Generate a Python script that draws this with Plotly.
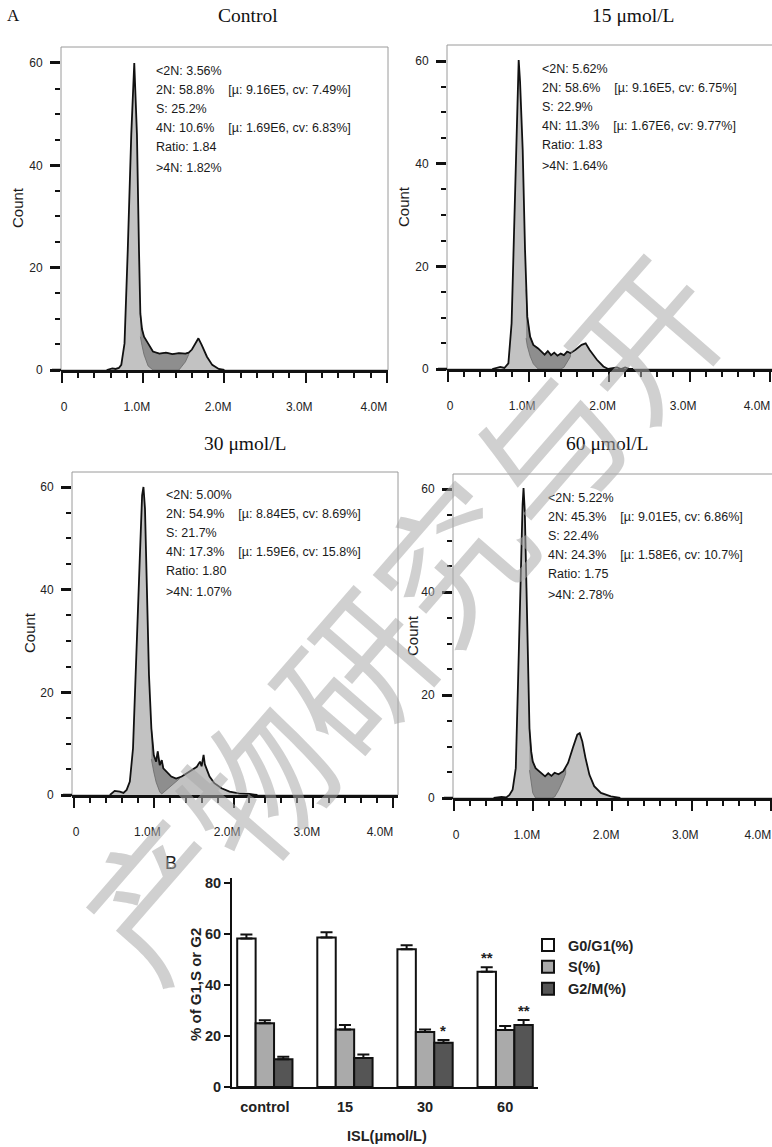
import plotly.graph_objects as go

W, H = 772, 1147

# ------------------------------------------------------------------ data
panel_titles = ["Control", "15 μmol/L", "30 μmol/L", "60 μmol/L"]
stats = [
    ["<2N: 3.56%", "2N: 58.8%   [µ: 9.16E5, cv: 7.49%]", "S: 25.2%",
     "4N: 10.6%   [µ: 1.69E6, cv: 6.83%]", "Ratio: 1.84", ">4N: 1.82%"],
    ["<2N: 5.62%", "2N: 58.6%   [µ: 9.16E5, cv: 6.75%]", "S: 22.9%",
     "4N: 11.3%   [µ: 1.67E6, cv: 9.77%]", "Ratio: 1.83", ">4N: 1.64%"],
    ["<2N: 5.00%", "2N: 54.9%   [µ: 8.84E5, cv: 8.69%]", "S: 21.7%",
     "4N: 17.3%   [µ: 1.59E6, cv: 15.8%]", "Ratio: 1.80", ">4N: 1.07%"],
    ["<2N: 5.22%", "2N: 45.3%   [µ: 9.01E5, cv: 6.86%]", "S: 22.4%",
     "4N: 24.3%   [µ: 1.58E6, cv: 10.7%]", "Ratio: 1.75", ">4N: 2.78%"],
]
x_tickvals = [0, 1, 2, 3, 4]
x_ticktext = ["0", "1.0M", "2.0M", "3.0M", "4.0M"]
y_tickvals = [0, 20, 40, 60]
watermark = "产物研究与开"

# DNA content (M) and count for each histogram
hx1 = [0.55, 0.62, 0.66, 0.70, 0.73, 0.77, 0.81, 0.853, 0.89, 0.923, 0.948, 0.965, 0.985,
       1.01, 1.06, 1.12, 1.2, 1.28, 1.36, 1.44, 1.52, 1.56, 1.60, 1.64, 1.68, 1.72, 1.785,
       1.85, 1.93, 2.0]
hy1 = [0, 0.3, 0.2, 0.4, 1.0, 5.2, 23.5, 46, 60, 46, 23.5, 11.0, 8.0,
       6.5, 5.2, 3.6, 3.2, 3.4, 3.1, 3.3, 3.2, 3.4, 4.0, 5.2, 6.2, 4.9, 2.6,
       1.0, 0.2, 0]
hx2 = [0.55, 0.65, 0.70, 0.75, 0.79, 0.82, 0.853, 0.878, 0.895, 0.928, 0.957, 0.97, 0.985,
       1.02, 1.06, 1.12, 1.16, 1.2, 1.24, 1.28, 1.32, 1.36, 1.40, 1.44, 1.48, 1.52, 1.58,
       1.62, 1.66, 1.71, 1.76, 1.85, 1.93, 1.99, 2.1, 2.15, 2.2, 2.26, 2.3]
hy2 = [0, 0.4, 0.2, 1.1, 8.9, 26.4, 45.9, 60.2, 56, 42.7, 23.2, 15.5, 10.2,
       6.3, 4.7, 4.0, 3.3, 2.8, 3.5, 2.7, 3.2, 2.6, 3.0, 2.7, 3.4, 3.1, 3.7,
       4.2, 4.7, 5.0, 3.7, 1.8, 0.5, 0, 0.3, 0, 0.3, 0, 0]
hx3 = [0.45, 0.51, 0.575, 0.62, 0.66, 0.70, 0.74, 0.784, 0.825, 0.854, 0.871, 0.89, 0.916,
       0.94, 0.97, 1.0, 1.03, 1.05, 1.075, 1.1, 1.12, 1.16, 1.22, 1.28, 1.325, 1.35, 1.41,
       1.49, 1.54, 1.58, 1.6, 1.625, 1.64, 1.66, 1.70, 1.76, 1.85, 1.95, 2.07, 2.2, 2.3]
hy3 = [0, 0.8, 0.65, 0.4, 1.0, 2.6, 9.1, 26.6, 46.1, 58.4, 60, 55.8, 39.6,
       23.4, 13.0, 7.8, 6.5, 8.5, 5.8, 6.8, 5.2, 4.5, 3.6, 3.2, 3.4, 3.6, 4.2,
       4.9, 5.5, 6.5, 5.6, 7.8, 6.0, 5.2, 3.6, 2.3, 1.3, 0.65, 0.3, 0.2, 0]
hx4 = [0.5, 0.60, 0.66, 0.70, 0.74, 0.78, 0.81, 0.84, 0.866, 0.878, 0.894, 0.915, 0.935,
       0.953, 0.975, 0.994, 1.03, 1.09, 1.15, 1.19, 1.23, 1.27, 1.32, 1.38, 1.41, 1.44,
       1.50, 1.557, 1.587, 1.62, 1.66, 1.71, 1.77, 1.855, 1.98, 2.05, 2.1]
hy4 = [0, 0.2, 0.1, 0.6, 1.6, 5.8, 23.3, 42.7, 57, 60.2, 55.6, 40.8, 23.3,
       13.5, 9.0, 7.1, 5.8, 4.9, 4.2, 4.8, 4.3, 4.9, 4.6, 5.2, 5.9, 6.8,
       9.7, 12.3, 12.6, 11.0, 7.8, 4.5, 2.3, 1.0, 0.3, 0.1, 0]

# S-phase window (M) and the lower edge of the S-phase band at each point inside it
s_lo = [0.965, 0.97, 0.97, 0.953]
s_hi = [1.56, 1.52, 1.325, 1.41]
sb1 = [6.5, 4.8, 3.0, 0.8, 0, 0, 0, 0, 0, 1.6, 3.0]
sb2 = [6.0, 4.5, 2.5, 1.0, 0, 0, 0, 0, 0, 0, 0, 0, 0.3, 1.2, 2.4]
sb3 = [7.0, 4.5, 2.5, 1.5, 0.6, 0.2, 0.3, 0.9, 1.8, 2.6, 3.2]
sb4 = [5.4, 3.0, 1.0, 0, 0, 0, 0, 0, 0.2, 1.5, 3.5, 4.7]

# bar chart (B)
groups = ["control", "15", "30", "60"]
g0g1 = [58.3, 58.7, 54.0, 45.2]
g0g1_err = [1.5, 2.0, 1.6, 1.8]
s_pct = [25.0, 22.6, 21.6, 22.4]
s_err = [1.2, 1.7, 1.0, 1.5]
g2m = [10.9, 11.4, 17.4, 24.3]
g2m_err = [1.0, 1.4, 1.0, 2.0]
series_names = ["G0/G1(%)", "S(%)", "G2/M(%)"]
signif = [("**", 3, 0), ("*", 2, 2), ("**", 3, 2)]  # (mark, group index, series index)

# ------------------------------------------------------------------ layout geometry (px)
panels = [
    dict(x0=62, pxm=81.2, left=61, right=388, base=370, top=47, ppc=5.117, rframe=True),
    dict(x0=448, pxm=80.5, left=447, right=772, base=369, top=45, ppc=5.133, rframe=False),
    dict(x0=74, pxm=79.75, left=72, right=398, base=795, top=472, ppc=5.133, rframe=True),
    dict(x0=454, pxm=79.2, left=453, right=772, base=798, top=474, ppc=5.15, rframe=False),
]
title_pos = [(248, 16), (633, 16), (245, 443), (607, 443)]
stats_pos = [(154, 71), (540, 69), (164, 495), (546, 498)]
line_off = [0, 19, 37.5, 57, 76, 97]
count_pos = [(17, 208), (404, 207), (29, 633), (412, 636)]

SANS = "Liberation Sans, Arial, sans-serif"
SERIF = "Liberation Serif, Times New Roman, serif"
LIGHT = "#c2c2c2"
DARK = "#8e8e8e"
NB = "\u00a0"


def px(x):
    return x / W


def py(y):
    return 1 - y / H


# labels padded on the left so that, with a -13 px shift, they sit where the reference prints them
tick_text_padded = ([NB * 9 + x_ticktext[0]] + [NB * 4 + t for t in x_ticktext[1:-1]]
                    + [x_ticktext[-1]])

fig = go.Figure()
annotations = []
shapes = []

hists = [(hx1, hy1, sb1), (hx2, hy2, sb2), (hx3, hy3, sb3), (hx4, hy4, sb4)]
for i, (hx, hy, sb) in enumerate(hists):
    n = i + 1
    xa, ya = ("x" if n == 1 else f"x{n}"), ("y" if n == 1 else f"y{n}")
    p = panels[i]
    fig.add_trace(go.Scatter(x=hx, y=hy, xaxis=xa, yaxis=ya, mode="lines",
                             line=dict(width=0, color=LIGHT), fill="tozeroy",
                             fillcolor=LIGHT, showlegend=False, hoverinfo="skip"))
    idx = [k for k, v in enumerate(hx) if s_lo[i] - 1e-9 <= v <= s_hi[i] + 1e-9]
    sx = [hx[k] for k in idx]
    st = [hy[k] for k in idx]
    fig.add_trace(go.Scatter(x=sx + sx[::-1], y=st + sb[::-1], xaxis=xa, yaxis=ya,
                             mode="lines", line=dict(width=0.8, color="#6a6a6a"),
                             fill="toself", fillcolor=DARK, showlegend=False,
                             hoverinfo="skip"))
    fig.add_trace(go.Scatter(x=hx, y=hy, xaxis=xa, yaxis=ya, mode="lines",
                             line=dict(width=1.8, color="#111111"),
                             showlegend=False, hoverinfo="skip"))

    xr = [(p["left"] - p["x0"]) / p["pxm"], (p["right"] - p["x0"]) / p["pxm"]]
    yr = [0, (p["base"] - p["top"]) / p["ppc"]]
    key_x = "xaxis" if n == 1 else f"xaxis{n}"
    key_y = "yaxis" if n == 1 else f"yaxis{n}"
    fig.layout[key_x] = dict(
        domain=[px(p["left"]), px(p["right"])], range=xr, anchor=ya, automargin=False,
        showgrid=False, zeroline=False, showline=True, linecolor="#111", linewidth=2.5,
        ticks="outside", ticklen=10, tickwidth=2, tickcolor="#111",
        tickvals=x_tickvals, ticktext=tick_text_padded, ticklabelshift=-13,
        minor=dict(ticks="outside", ticklen=5, tickwidth=1.5, tickcolor="#111",
                   dtick=0.2, tick0=0),
        tickfont=dict(family=SANS, size=12, color="#222"), ticklabelstandoff=14,
        fixedrange=True)
    fig.layout[key_y] = dict(
        domain=[py(p["base"]), py(p["top"])], range=yr, anchor=xa, automargin=False,
        showgrid=False, zeroline=False, showline=False,
        ticks="outside", ticklen=10, tickwidth=2.5, tickcolor="#111",
        tickvals=y_tickvals,
        minor=dict(ticks="outside", ticklen=5, tickwidth=1.5, tickcolor="#111",
                   dtick=5, tick0=0),
        tickfont=dict(family=SANS, size=12, color="#222"), ticklabelstandoff=5,
        fixedrange=True)
    shapes.append(dict(type="rect", xref=f"{xa} domain", yref=f"{ya} domain",
                       x0=0, x1=1 if p["rframe"] else 1.05, y0=0, y1=1,
                       line=dict(color="#9a9a9a", width=1), layer="below"))
    shapes.append(dict(type="line", xref=f"{xa} domain", yref=f"{ya} domain",
                       x0=-9 / (p["right"] - p["left"]), x1=0,
                       y0=0, y1=0, line=dict(color="#111", width=2.5)))

    tx, ty = title_pos[i]
    annotations.append(dict(x=px(tx), y=py(ty), xref="paper", yref="paper",
                            text=panel_titles[i], showarrow=False,
                            font=dict(family=SERIF, size=19.5, color="#111"),
                            xanchor="center", yanchor="middle"))
    sx0, sy0 = stats_pos[i]
    for line, off in zip(stats[i], line_off):
        annotations.append(dict(x=px(sx0), y=py(sy0 + off), xref="paper", yref="paper",
                                text=line.replace("   ", NB * 4),
                                showarrow=False,
                                font=dict(family=SANS, size=12.5, color="#1a1a1a"),
                                xanchor="left", yanchor="middle"))
    cx, cy = count_pos[i]
    annotations.append(dict(x=px(cx), y=py(cy), xref="paper", yref="paper",
                            text="Count", showarrow=False, textangle=-90,
                            font=dict(family=SANS, size=15, color="#1a1a1a"),
                            xanchor="center", yanchor="middle"))

annotations.append(dict(x=px(14), y=py(16), xref="paper", yref="paper", text="A",
                        showarrow=False, font=dict(family=SERIF, size=17, color="#111"),
                        xanchor="center", yanchor="middle"))

# ------------------------------------------------------------------ bar chart B
bargap = 0.31
bar_colors = ["#ffffff", "#aaaaaa", "#555555"]
for name, vals, errs, col in zip(series_names, [g0g1, s_pct, g2m],
                                 [g0g1_err, s_err, g2m_err], bar_colors):
    fig.add_trace(go.Bar(
        x=groups, y=vals, name=name, xaxis="x5", yaxis="y5",
        marker=dict(color=col, line=dict(color="#111", width=2)),
        error_y=dict(type="data", array=errs, arrayminus=[0] * len(errs),
                     symmetric=False, color="#111", thickness=2, width=6),
        legendgroup=name, hoverinfo="skip"))

fig.layout["xaxis5"] = dict(
    domain=[px(232), px(538)], range=[-0.41, 3.41], anchor="y5", type="category",
    categoryorder="array", categoryarray=groups, automargin=False,
    showgrid=False, zeroline=False, showline=True, linecolor="#111", linewidth=2,
    ticks="", tickfont=dict(family=SANS, size=14.5, color="#222", weight="bold"),
    ticklabelstandoff=6, fixedrange=True)
fig.layout["yaxis5"] = dict(
    domain=[py(1087), py(878)], range=[0, 82], anchor="x5", automargin=False,
    showgrid=False, zeroline=False, showline=True, linecolor="#111", linewidth=2,
    ticks="outside", ticklen=6, tickwidth=2, tickcolor="#111", dtick=20,
    tickfont=dict(family=SANS, size=14.5, color="#222", weight="bold"),
    fixedrange=True)

bw = (1 - bargap) / 3
for mark, gi, si in signif:
    vals = [g0g1, s_pct, g2m][si]
    errs = [g0g1_err, s_err, g2m_err][si]
    annotations.append(dict(x=gi + (si - 1) * bw, y=vals[gi] + errs[gi] + 3.8,
                            xref="x5", yref="y5", text=mark, showarrow=False,
                            font=dict(family=SANS, size=15, color="#222", weight="bold"),
                            xanchor="center", yanchor="middle"))

annotations.append(dict(x=px(171), y=py(863), xref="paper", yref="paper", text="B",
                        showarrow=False, font=dict(family=SANS, size=18, color="#222"),
                        xanchor="center", yanchor="middle"))
annotations.append(dict(x=px(195), y=py(985), xref="paper", yref="paper",
                        text="% of G1,S or G2", showarrow=False, textangle=-90,
                        font=dict(family=SANS, size=15, color="#222", weight="bold"),
                        xanchor="center", yanchor="middle"))
annotations.append(dict(x=px(387), y=py(1136), xref="paper", yref="paper",
                        text="ISL(μmol/L)", showarrow=False,
                        font=dict(family=SANS, size=14.5, color="#222", weight="bold"),
                        xanchor="center", yanchor="middle"))

# watermark (visible characters), kept inside the picture
annotations.append(dict(x=px(398), y=py(612), xref="paper", yref="paper",
                        text=watermark, showarrow=False, textangle=-49,
                        font=dict(family="Noto Sans CJK SC", size=148,
                                  color="rgba(170,170,170,0.55)"),
                        xanchor="center", yanchor="middle"))

fig.update_layout(
    width=W, height=H, margin=dict(l=0, r=0, t=0, b=0, autoexpand=False),
    paper_bgcolor="white", plot_bgcolor="rgba(0,0,0,0)",
    bargap=bargap, bargroupgap=0, barmode="group",
    showlegend=True,
    legend=dict(x=px(528), y=py(929), xanchor="left", yanchor="top",
                font=dict(family=SANS, size=14.5, color="#222", weight="bold"),
                bgcolor="rgba(0,0,0,0)", tracegroupgap=0, itemwidth=30),
    annotations=annotations, shapes=shapes,
)

fig.write_html(
    "out.html",
    config={"displayModeBar": False},
    post_script="document.documentElement.style.margin='0';"
                "document.body.style.margin='0';document.body.style.padding='0';",
)
